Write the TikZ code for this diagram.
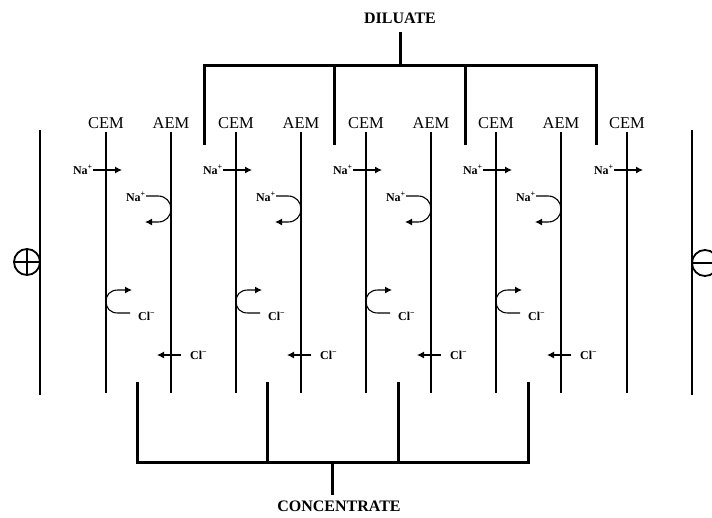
\documentclass[tikz,border=0pt]{standalone}
\usepackage{fontspec}
\setmainfont{Liberation Serif}
\usetikzlibrary{arrows.meta}
\begin{document}
\begin{tikzpicture}[x=1pt,y=-1pt,
  memline/.style={line width=2pt},
  pipe/.style={line width=3pt},
  memlabel/.style={font=\fontsize{16.5}{18}\selectfont, inner sep=0pt},
  titlelabel/.style={font=\fontsize{16}{18}\selectfont\bfseries, inner sep=0pt},
  ionlabel/.style={font=\fontsize{12}{13}\selectfont\bfseries, inner sep=0pt},
  ionarrow/.style={line width=1.1pt, -{Latex[length=7pt,width=7pt]}},
]
\useasboundingbox (0,0) rectangle (712,517);
% electrodes
\coordinate (Ltop) at (40,130); \coordinate (Lbot) at (40,395);
\coordinate (Rtop) at (692,130); \coordinate (Rbot) at (692,395);
\draw[memline] (Ltop) -- (Lbot);
\draw[memline] (Rtop) -- (Rbot);
\node[draw, circle, line width=1.8pt, minimum size=26pt, inner sep=0pt] (plus) at (27,262) {};
\draw[line width=1.8pt] (plus.west) -- (plus.east) (plus.north) -- (plus.south);
\node[draw, circle, line width=1.8pt, minimum size=26pt, inner sep=0pt] (minus) at (705,263) {};
\draw[line width=1.8pt] (minus.west) -- (minus.east);
% membranes
\foreach \x/\n/\t in {106/C1/CEM, 171/A1/AEM, 236/C2/CEM, 301/A2/AEM, 366/C3/CEM, 431/A3/AEM, 496/C4/CEM, 561/A4/AEM, 627/C5/CEM} {
  \coordinate (\n top) at (\x,132);
  \coordinate (\n bot) at (\x,393);
  \draw[memline] (\n top) -- (\n bot);
  \node[memlabel, anchor=base] (\n lab) at (\x,128) {\t};
}
% Na+ through CEMs
\foreach \x/\n in {106/C1, 236/C2, 366/C3, 496/C4, 627/C5} {
  \node[ionlabel, anchor=base east] (na\n) at (\x-13,174) {Na\textsuperscript{+}};
  \draw[ionarrow] (\x-13,170) -- (\x+16,170);
}
% Cl- rejected at CEMs
\foreach \x/\n in {106/C1, 236/C2, 366/C3, 496/C4} {
  \node[ionlabel, anchor=base west] (clr\n) at (\x+32,320) {Cl\textsuperscript{−}};
  \draw[ionarrow] (\x+24,313) -- (\x+12,313) .. controls (\x+4,313) and (\x,308) .. (\x,301.5)
     .. controls (\x,295) and (\x+4,290) .. (\x+12,290) -- (\x+26,290);
}
% Na+ rejected at AEMs and Cl- through AEMs
\foreach \x/\n in {171/A1, 301/A2, 431/A3, 561/A4} {
  \node[ionlabel, anchor=base east] (nar\n) at (\x-25,201) {Na\textsuperscript{+}};
  \draw[ionarrow] (\x-25,196) -- (\x-13,196) .. controls (\x-5,196) and (\x,202) .. (\x,209)
     .. controls (\x,216) and (\x-5,222) .. (\x-13,222) -- (\x-26,222);
  \node[ionlabel, anchor=base west] (cl\n) at (\x+19,359) {Cl\textsuperscript{−}};
  \draw[ionarrow] (\x+10,355) -- (\x-14,355);
}
% diluate manifold
\node[titlelabel] (dil) at (400,18.5) {DILUATE};
\coordinate (dtop) at (400,32);
\coordinate (dmid) at (400,65);
\draw[pipe] (dtop) -- (dmid);
\draw[pipe] (204,145) -- (204,65) -- (596,65) -- (596,145);
\draw[pipe] (334,65) -- (334,145);
\draw[pipe] (465,65) -- (465,145);
% concentrate manifold
\node[titlelabel] (con) at (339,506.5) {CONCENTRATE};
\coordinate (cbot) at (332,495);
\coordinate (cmid) at (332,462);
\draw[pipe] (cmid) -- (cbot);
\draw[pipe] (137,382) -- (137,462) -- (528,462) -- (528,382);
\draw[pipe] (267,462) -- (267,382);
\draw[pipe] (398,462) -- (398,382);
\end{tikzpicture}
\end{document}
